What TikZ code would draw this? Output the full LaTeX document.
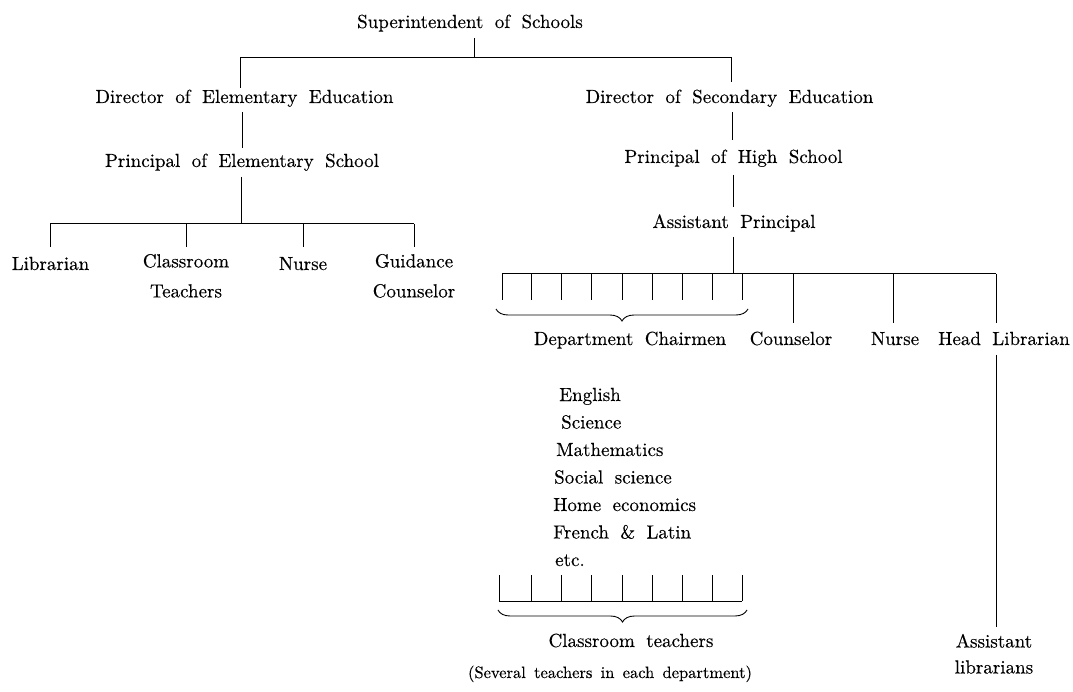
\documentclass[tikz,border=0pt]{standalone}
\usepackage{fontspec}
\setmainfont{lmroman10-regular}[Extension=.otf,FakeBold=0.3]
\usetikzlibrary{decorations.pathreplacing}
% chart lettering: Latin Modern (10pt design) with generous word spacing
\newcommand\chartfont{\fontsize{19}{30}\selectfont\spaceskip=0.6em\relax}
\newcommand\chartfonttight{\fontsize{19}{26}\selectfont\spaceskip=0.6em\relax}
\newcommand\notefont{\fontsize{16.5}{20}\selectfont\spaceskip=0.5em\relax}
\begin{document}
\begin{tikzpicture}[x=1pt,y=-1pt,
  lab/.style={anchor=base,inner sep=0pt,font=\chartfont},
  twoline/.style={anchor=north,align=center,inner sep=0pt,font=\chartfont},
  subj/.style={anchor=base west,inner sep=0pt,font=\chartfont},
  wire/.style={line width=1pt},
  bracket/.style={line width=0.9pt,decorate,decoration={brace,amplitude=12pt}}]
\useasboundingbox (0,0) rectangle (1073,692);

% ---------- top levels ----------
\node[lab] (sup) at (470,28) {Superintendent of Schools};
\node[lab] (dee) at (244.5,103) {Director of Elementary Education};
\node[lab] (dse) at (729.5,103) {Director of Secondary Education};
\node[lab] (pes) at (242,167) {Principal of Elementary School};
\node[lab] (phs) at (733.5,163) {Principal of High School};
\node[lab] (ap)  at (734,228) {Assistant Principal};

\coordinate (s0) at (474,38);
\coordinate (s1) at (474,58);
\coordinate (sL) at (240,58);
\coordinate (sR) at (731,58);
\coordinate (deT) at (240,88);
\coordinate (dsT) at (731,82);
\draw[wire] (s0) -- (s1);
\draw[wire] (deT) -- (sL) -- (sR) -- (dsT);

% ---------- elementary branch ----------
\coordinate (de0) at (242,112);
\coordinate (de1) at (242,148);
\draw[wire] (de0) -- (de1);
\coordinate (pe0) at (241,177);
\coordinate (pe1) at (241,224);
\draw[wire] (pe0) -- (pe1);
\coordinate (eL) at (50,224);
\coordinate (eR) at (414,224);
\draw[wire] (eL) -- (eR);

\node[lab] (lib) at (50.5,270) {Librarian};
\node[twoline] (ctl) at (186,253.8) {Classroom\\Teachers};
\node[lab] (nue) at (303,270) {Nurse};
\node[twoline] (gco) at (414,253.8) {Guidance\\Counselor};
\foreach \x/\n in {50/lib,186/ctl,303/nue,414/gco}{
  \coordinate (t\n) at (\x,224);
  \coordinate (b\n) at (\x,247);
  \draw[wire] (t\n) -- (b\n);
}

% ---------- secondary branch ----------
\coordinate (ds0) at (732,112);
\coordinate (ds1) at (732,140);
\draw[wire] (ds0) -- (ds1);
\coordinate (ph0) at (733,175);
\coordinate (ph1) at (733,207);
\draw[wire] (ph0) -- (ph1);
\coordinate (ap0) at (733,237);
\coordinate (ap1) at (733,274);
\draw[wire] (ap0) -- (ap1);
\coordinate (hL) at (502,274);
\coordinate (hR) at (996,274);
\draw[wire] (hL) -- (hR);

% department chairmen ticks and brace
\foreach \x in {502,531,561,591,622,652,682,712,742}
  \draw[wire] (\x,274) -- (\x,300);
\coordinate (brA) at (748,309);
\coordinate (brB) at (496,309);
\draw[bracket] (brA) -- (brB);

\node[lab] (dc)  at (630,345) {Department Chairmen};
\node[lab] (cou) at (791,345) {Counselor};
\node[lab] (nus) at (895,345) {Nurse};
\node[lab] (hl)  at (1004,345) {Head Librarian};
\foreach \x/\n in {793/cou,893/nus,996/hl}{
  \coordinate (t\n) at (\x,274);
  \coordinate (b\n) at (\x,323);
  \draw[wire] (t\n) -- (b\n);
}

% departments
\node[subj] (eng) at (559,401) {English};
\node[subj] (sci) at (561,428.5) {Science};
\node[subj] (mat) at (556,456) {Mathematics};
\node[subj] (soc) at (554,483.5) {Social science};
\node[subj] (hom) at (553,511) {Home economics};
\node[subj] (fre) at (553,538.5) {French \& Latin};
\node[subj] (etc) at (555,566) {etc.};

% classroom teacher ticks and brace
\foreach \x in {499,531,561,591,622,652,682,712,742}
  \draw[wire] (\x,575) -- (\x,601);
\coordinate (cL) at (499,601);
\coordinate (cR) at (742,601);
\draw[wire] (cL) -- (cR);
\coordinate (bcA) at (747,610);
\coordinate (bcB) at (498,610);
\draw[bracket] (bcA) -- (bcB);

\node[lab] (ctc) at (631,647) {Classroom teachers};
\node[lab,font=\notefont] (sev) at (610,678) {(Several teachers in each department)};

% assistant librarians
\coordinate (hl0) at (996,355);
\coordinate (hl1) at (996,627);
\draw[wire] (hl0) -- (hl1);
\node[twoline,font=\chartfonttight] (asl) at (994,633.7) {Assistant\\librarians};
\end{tikzpicture}
\end{document}
